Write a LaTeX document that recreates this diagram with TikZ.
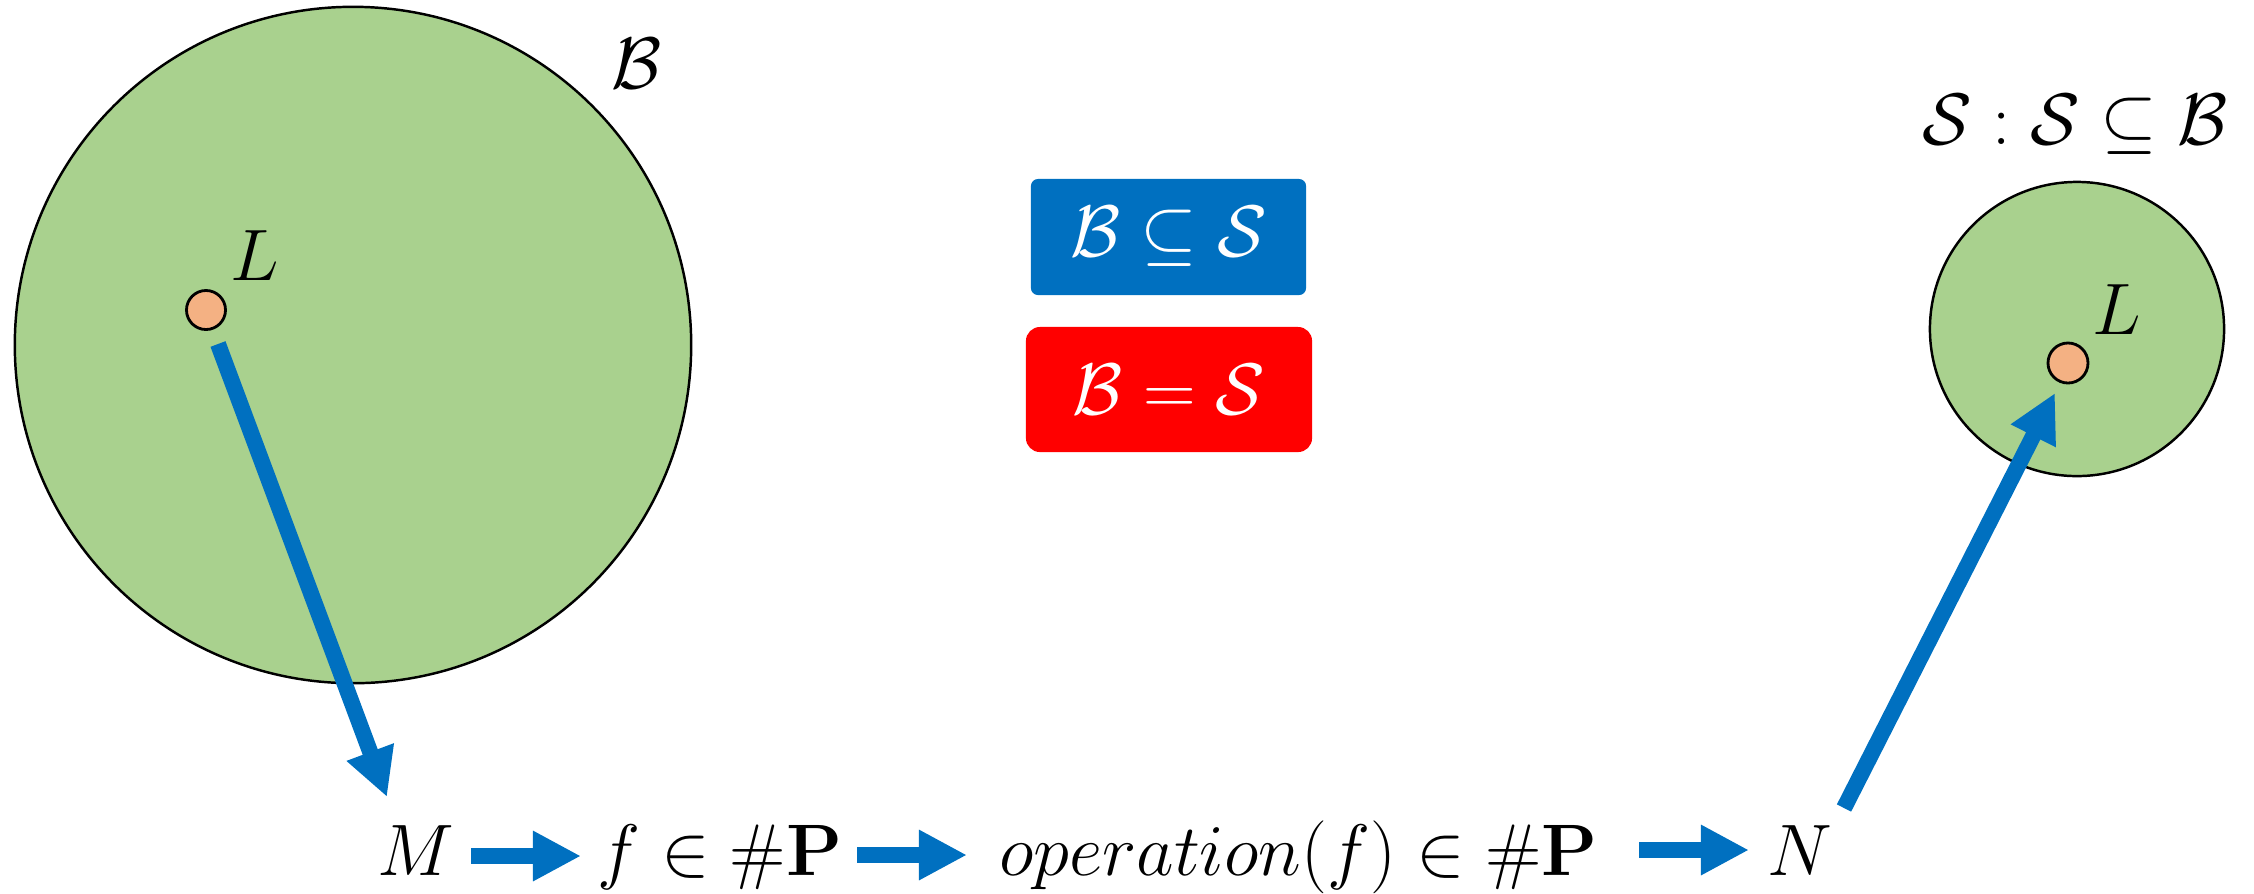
\documentclass[tikz,border=0pt]{standalone}
\usepackage{amsmath,amssymb}
\usetikzlibrary{arrows.meta}
\definecolor{setgreen}{HTML}{A9D18E}
\definecolor{dotorange}{HTML}{F4B183}
\definecolor{flowblue}{HTML}{0070C0}
\definecolor{eqred}{HTML}{FF0000}
\tikzset{
  mtext/.style={inner sep=0pt, font=\huge},
  setcircle/.style={circle, draw=black, fill=setgreen, line width=0.7pt, inner sep=0pt},
  dotnode/.style={circle, draw=black, fill=dotorange, line width=0.8pt, inner sep=0pt, minimum size=0.39cm},
  flow/.style={draw=flowblue, line width=0.16cm, -{Triangle[length=0.48cm,width=0.47cm]}},
  relbox/.style={inner sep=0pt, text=white, font=\huge}
}
\begin{document}
\begin{tikzpicture}[x=0.01cm, y=-0.01cm]
\useasboundingbox (0,0) rectangle (2254,893);
% big set B
\node[setcircle, minimum size=6.76cm] (bigB) at (353,345) {};
\node[mtext] (Blab) at (637,64) {$\mathcal{B}$};
\node[dotnode] (Ldot1) at (206,310) {};
\node[mtext] (L1) at (255,256) {$L$};
% small set S
\node[setcircle, minimum size=2.94cm] (smallS) at (2077,329) {};
\node[mtext] (Slab) at (2075,125) {$\mathcal{S}:\mathcal{S}\subseteq\mathcal{B}$};
\node[dotnode, minimum size=0.40cm] (Ldot2) at (2068,363) {};
\node[mtext] (L2) at (2117,310) {$L$};
% relation boxes
\node[relbox, fill=flowblue, rounded corners=2pt, minimum width=2.75cm, minimum height=1.16cm] (boxsub) at (1168.5,237) {$\mathcal{B}\subseteq\mathcal{S}$};
\node[relbox, fill=eqred, rounded corners=4pt, minimum width=2.86cm, minimum height=1.25cm] (boxeq) at (1169,389.5) {$\mathcal{B}=\mathcal{S}$};
% bottom chain
\node[mtext, anchor=base] (M) at (415.5,875) {$M$};
\node[mtext, anchor=base] (fP) at (720,875) {$f\in\#\mathbf{P}$};
\node[mtext, anchor=base] (op) at (1298.5,875) {$operation(f)\in\#\mathbf{P}$};
\node[mtext, anchor=base] (N) at (1800,875) {$N$};
\coordinate (a1s) at (471,856);
\coordinate (a1e) at (581,856);
\coordinate (a2s) at (857,855);
\coordinate (a2e) at (967,855);
\coordinate (a3s) at (1639,850);
\coordinate (a3e) at (1749,850);
\draw[flow] (a1s) -- (a1e);
\draw[flow] (a2s) -- (a2e);
\draw[flow] (a3s) -- (a3e);
% arrows to and from the sets
\coordinate (inS) at (218,344);
\coordinate (toM) at (387,797);
\coordinate (fromN) at (1844,808);
\coordinate (toL2) at (2055,393);
\draw[flow] (inS) -- (toM);
\draw[flow] (fromN) -- (toL2);
\end{tikzpicture}
\end{document}
